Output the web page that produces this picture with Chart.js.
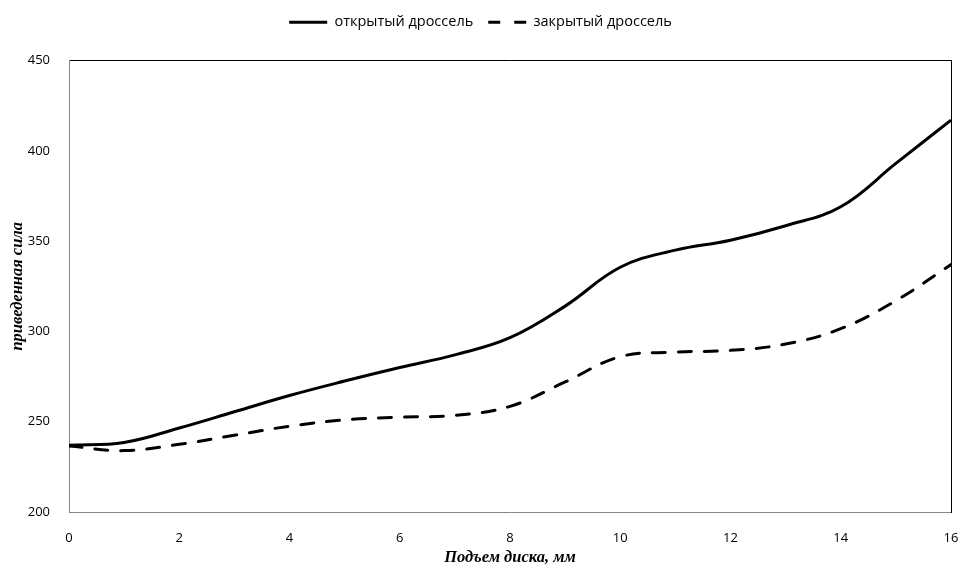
<!DOCTYPE html>
<html>
<head>
<meta charset="utf-8">
<script src="https://cdn.jsdelivr.net/npm/chart.js@4"></script>
<style>
  html, body { margin: 0; padding: 0; background: #fff; }
  #wrap { width: 960px; height: 565px; }
</style>
</head>
<body>
<div id="wrap"><canvas id="forceChart" width="960" height="565"></canvas></div>
<script>
// подъем диска, мм
const lift = [0, 1, 2, 3, 4, 5, 6, 7, 8, 9, 10, 11, 12, 13, 14, 15, 16];
// приведенная сила
const openThrottle = [237, 238.5, 246.5, 255.5, 264.5, 272.5, 280, 287, 296.5, 314, 335.5, 345, 350.5, 358.5, 369, 393, 417];
const closedThrottle = [236.5, 234, 237.5, 242.5, 247.5, 251, 252.5, 253.5, 258.5, 272, 286, 288.5, 289.5, 293, 301.5, 317, 337];

const xTicks = [0, 2, 4, 6, 8, 10, 12, 14, 16];
const yTicks = [200, 250, 300, 350, 400, 450];

const labelFont = { family: "'Open Sans', sans-serif", size: 13 };
const legendFont = { family: "'Open Sans', sans-serif", size: 14.5 };
const titleFont = { family: "'Liberation Serif', 'DejaVu Serif', serif", size: 16.5, style: "italic", weight: "bold", lineHeight: 0.9 };

function toPoints(values) {
    return lift.map((x, i) => ({ x: x, y: values[i] }));
}

const ctx = document.getElementById("forceChart").getContext("2d");

new Chart(ctx, {
    type: "line",
    data: {
        datasets: [
            {
                label: "открытый дроссель",
                data: toPoints(openThrottle),
                borderColor: "#000",
                backgroundColor: "#000",
                borderWidth: 3,
                pointRadius: 0,
                tension: 0.4,
                fill: false
            },
            {
                label: "закрытый дроссель",
                data: toPoints(closedThrottle),
                borderColor: "#000",
                backgroundColor: "#000",
                borderWidth: 3,
                borderDash: [13, 13],
                borderCapStyle: "round",
                pointRadius: 0,
                tension: 0.4,
                fill: false
            }
        ]
    },
    options: {
        responsive: false,
        animation: false,
        layout: { padding: { top: 0, right: 9, bottom: 0, left: 10 } },
        plugins: {
            legend: {
                position: "top",
                labels: {
                    usePointStyle: true,
                    pointStyle: "line",
                    pointStyleWidth: 38,
                    boxHeight: 3,
                    color: "#000",
                    font: legendFont,
                    padding: 15,
                    generateLabels: chart => chart.data.datasets.map((ds, i) => ({
                        text: ds.label,
                        datasetIndex: i,
                        pointStyle: "line",
                        strokeStyle: "#000",
                        fillStyle: "#000",
                        fontColor: "#000",
                        lineWidth: 3,
                        lineDash: ds.borderDash ? [12, 14] : [],
                        lineCap: "butt",
                        hidden: false
                    }))
                }
            },
            tooltip: { enabled: false }
        },
        scales: {
            x: {
                type: "linear",
                min: 0,
                max: 16,
                afterBuildTicks: axis => { axis.ticks = xTicks.map(v => ({ value: v })); },
                afterFit: axis => {
                    axis.height = 53;
                    axis.paddingLeft = 0;
                    axis.paddingRight = 0;
                },
                grid: { display: false, drawOnChartArea: false, drawTicks: true, tickLength: 5, tickColor: "#868686" },
                border: { display: true, color: "#868686", width: 1 },
                ticks: { color: "#000", font: labelFont, padding: 13, maxRotation: 0 },
                title: { display: true, text: "Подъем диска, мм", color: "#000", font: titleFont, padding: { top: 0, bottom: 0 } }
            },
            xTop: {
                type: "linear",
                position: "top",
                min: 0,
                max: 16,
                afterFit: axis => { axis.height = 21; },
                grid: { display: false, drawTicks: false },
                border: { display: true, color: "#000", width: 1 },
                ticks: { display: false }
            },
            y: {
                min: 200,
                max: 450,
                afterBuildTicks: axis => { axis.ticks = yTicks.map(v => ({ value: v })); },
                afterFit: axis => { axis.width = 59; },
                grid: { display: false, drawOnChartArea: false, drawTicks: true, tickLength: 5, tickColor: "#868686" },
                border: { display: true, color: "#868686", width: 1 },
                ticks: { color: "#000", font: labelFont, padding: 14 },
                title: { display: true, text: "приведенная сила", color: "#000", font: titleFont, padding: { top: 0, bottom: 0 } }
            },
            yRight: {
                position: "right",
                min: 200,
                max: 450,
                afterFit: axis => { axis.width = 0; },
                grid: { display: false, drawTicks: false },
                border: { display: true, color: "#000", width: 1 },
                ticks: { display: false }
            }
        }
    }
});
</script>
</body>
</html>
